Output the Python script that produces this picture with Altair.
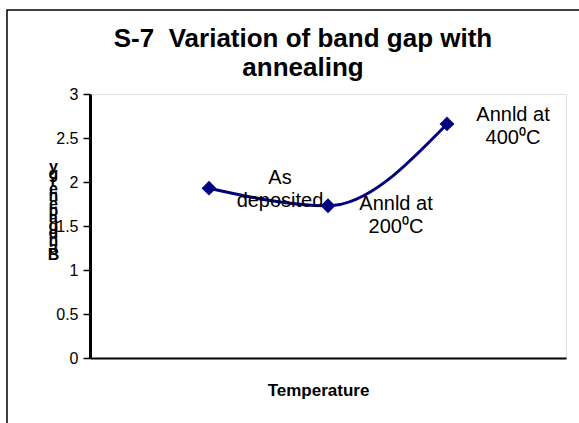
import altair as alt
import pandas as pd

# ---- data ----
stages = ["As deposited", "Annld at 200⁰C", "Annld at 400⁰C"]
position = [1, 2, 3]
band_gap = [1.93, 1.73, 2.66]
label_lines = [["As", "deposited"], ["Annld at", "200⁰C"], ["Annld at", "400⁰C"]]
y_ticks = [0, 0.5, 1, 1.5, 2, 2.5, 3]
title_lines = ["S-7  Variation of band gap with", "annealing"]
y_title = "Band gap energy"
x_title = "Temperature"

df = pd.DataFrame({
    "stage": stages,
    "pos": position,
    "gap": band_gap,
    "label": ["\n".join(l) for l in label_lines],
})

FONT = "Liberation Sans"
NAVY = "#000080"
W, H = 476, 264

# stacked (reversed) letters for the y title, as Excel renders it
stacked = [c for c in reversed(y_title.replace(" ", ""))]

x_enc = alt.X(
    "pos:Q",
    scale=alt.Scale(domain=[0, 4], nice=False, zero=False),
    axis=alt.Axis(
        title=x_title, labels=False, ticks=False, grid=False,
        domainColor="black", domainWidth=2,
        titleFont=FONT, titleFontSize=17, titleFontWeight="bold",
        titleColor="black", titleX=228, titleY=32, titleBaseline="middle",
    ),
)
y_enc = alt.Y(
    "gap:Q",
    scale=alt.Scale(domain=[0, 3], nice=False),
    axis=alt.Axis(
        values=y_ticks, format="~g", grid=False,
        tickColor="black", tickSize=7, tickWidth=1.5,
        domainColor="black", domainWidth=3,
        labelFont=FONT, labelFontSize=16, labelColor="black", labelPadding=5,
        title=stacked, titleAngle=0, titleX=-37, titleY=64,
        titleBaseline="top", titleAlign="center", titleLineHeight=7.4,
        titleFont=FONT, titleFontSize=16, titleFontWeight="bold", titleColor="black",
    ),
)

one = pd.DataFrame({"f": [0]})

frame = alt.Chart(one).mark_rect(
    filled=False, stroke="black", strokeWidth=1.5
).encode(
    x=alt.value(-83), x2=alt.value(560), y=alt.value(-84), y2=alt.value(400)
)

title_text = "\n".join(t.replace("  ", " \u00a0") for t in title_lines)
title = alt.Chart(one).mark_text(
    align="center", baseline="middle", lineBreak="\n", lineHeight=29,
    font=FONT, fontSize=26, fontWeight="bold", color="black",
).encode(
    x=alt.value(213), y=alt.value(-55), text=alt.value(title_text)
)

line = alt.Chart(df).mark_line(
    color=NAVY, strokeWidth=3, interpolate="monotone"
).encode(x=x_enc, y=y_enc)

points = alt.Chart(df).mark_point(
    shape="diamond", filled=True, size=220, color=NAVY, opacity=1
).encode(x="pos:Q", y="gap:Q")

label_dx = [71, 68, 66]
label_dy = [-10, -2, -9]
labels = []
for i, s in enumerate(stages):
    labels.append(
        alt.Chart(df).transform_filter(alt.datum.stage == s).mark_text(
            align="center", baseline="middle", lineBreak="\n", lineHeight=23,
            font=FONT, fontSize=20, color="black",
            dx=label_dx[i], dy=label_dy[i],
        ).encode(x="pos:Q", y="gap:Q", text="label:N")
    )

chart = alt.layer(frame, title, line, points, *labels).properties(
    width=W, height=H,
    autosize=alt.AutoSizeParams(type="none"),
    padding={"left": 90, "top": 94, "right": 13, "bottom": 65},
).configure_view(
    stroke="#9a9a9a", strokeWidth=2
).configure(background="white")

chart.save("out.html", embed_options={"renderer": "svg", "actions": False})
